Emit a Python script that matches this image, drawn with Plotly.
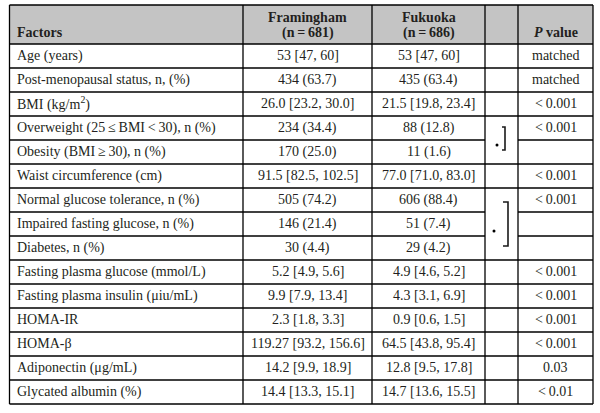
import plotly.graph_objects as go

factors = [
    "Age (years)",
    "Post-menopausal status, n, (%)",
    "BMI (kg/m<sup>2</sup>)",
    "Overweight (25\u2009\u2264\u2009BMI\u2009&lt;\u200930), n (%)",
    "Obesity (BMI\u2009\u2265\u200930), n (%)",
    "Waist circumference (cm)",
    "Normal glucose tolerance, n (%)",
    "Impaired fasting glucose, n (%)",
    "Diabetes, n (%)",
    "Fasting plasma glucose (mmol/L)",
    "Fasting plasma insulin (\u03bciu/mL)",
    "HOMA-IR",
    "HOMA-\u03b2",
    "Adiponectin (\u03bcg/mL)",
    "Glycated albumin (%)",
]
framingham = [
    "53 [47, 60]", "434 (63.7)", "26.0 [23.2, 30.0]", "234 (34.4)", "170 (25.0)",
    "91.5 [82.5, 102.5]", "505 (74.2)", "146 (21.4)", "30 (4.4)", "5.2 [4.9, 5.6]",
    "9.9 [7.9, 13.4]", "2.3 [1.8, 3.3]", "119.27 [93.2, 156.6]", "14.2 [9.9, 18.9]",
    "14.4 [13.3, 15.1]",
]
fukuoka = [
    "53 [47, 60]", "435 (63.4)", "21.5 [19.8, 23.4]", "88 (12.8)", "11 (1.6)",
    "77.0 [71.0, 83.0]", "606 (88.4)", "51 (7.4)", "29 (4.2)", "4.9 [4.6, 5.2]",
    "4.3 [3.1, 6.9]", "0.9 [0.6, 1.5]", "64.5 [43.8, 95.4]", "12.8 [9.5, 17.8]",
    "14.7 [13.6, 15.5]",
]
pvalues = [
    "matched", "matched", "&lt;\u20090.001", "&lt;\u20090.001", "",
    "&lt;\u20090.001", "&lt;\u20090.001", "", "", "&lt;\u20090.001",
    "&lt;\u20090.001", "&lt;\u20090.001", "&lt;\u20090.001", "0.03", "&lt;\u20090.01",
]
headers = ["Factors", "Framingham<br>(n\u2009=\u2009681)", "Fukuoka<br>(n\u2009=\u2009686)", "", "<i>P</i> value"]
groups = [(3, 4), (6, 8)]  # rows merged in the bracket column

# layout geometry (pixels)
W, H = 600, 413
col_x = [9.5, 243, 372, 485, 518, 593]
top, head_bot, row_h = 5, 44, 24
n = len(factors)
bottom = head_bot + n * row_h
FONT = "Liberation Serif"
TXT = "#231f20"
LW = 1.3

shapes = []
annots = []

# header background
shapes.append(dict(type="rect", x0=col_x[0], x1=col_x[-1], y0=top, y1=head_bot,
                   fillcolor="#c4c4c4", line=dict(width=0), layer="below"))

def hline(y, x0, x1):
    shapes.append(dict(type="line", x0=x0, x1=x1, y0=y, y1=y, line=dict(color="black", width=LW)))

def vline(x, y0, y1):
    shapes.append(dict(type="line", x0=x, x1=x, y0=y0, y1=y1, line=dict(color="black", width=LW)))

hline(top, col_x[0], col_x[-1])
hline(head_bot, col_x[0], col_x[-1])
hline(bottom, col_x[0], col_x[-1])
for i in range(1, n):
    y = head_bot + i * row_h
    inside = any(a < i <= b for a, b in groups)
    if inside:
        hline(y, col_x[0], col_x[3])
        hline(y, col_x[4], col_x[5])
    else:
        hline(y, col_x[0], col_x[-1])
for x in col_x:
    vline(x, top, bottom)

# brackets
for (a, b), (bx, dx, tick) in zip(groups, [(505, 497, 3), (508, 494, 5)]):
    yc = head_bot + (a + b + 1) / 2 * row_h
    if b - a == 1:
        yc0 = yc - 1.5
        y0, y1 = yc0 - 11.5, yc0 + 11.5
        dy = y1 - 5
    else:
        y0, y1 = yc - 22, yc + 22
        dy = y1 - 15
    shapes.append(dict(type="path",
                       path=f"M {bx-tick},{y0} L {bx},{y0} L {bx},{y1} L {bx-tick},{y1}",
                       line=dict(color="#1a1a1a", width=1.6)))
    shapes.append(dict(type="circle", x0=dx - 1.5, x1=dx + 1.5, y0=dy - 1.5, y1=dy + 1.5,
                       fillcolor="black", line=dict(width=0)))

font = dict(family=FONT, size=14, color=TXT)
# header text
annots.append(dict(x=15, y=32, text="<b>Factors</b>", xanchor="left", yanchor="middle", showarrow=False, font=font))
for ci, h in [(1, headers[1]), (2, headers[2])]:
    l1, l2 = h.split("<br>")
    cx = (col_x[ci] + col_x[ci + 1]) / 2
    annots.append(dict(x=cx, y=17, text=f"<b>{l1}</b>", xanchor="center", yanchor="middle", showarrow=False, font=font))
    annots.append(dict(x=cx, y=32.5, text=f"<b>{l2}</b>", xanchor="center", yanchor="middle", showarrow=False, font=font))
annots.append(dict(x=(col_x[4] + col_x[5]) / 2, y=32, text=f"<b>{headers[4]}</b>", xanchor="center",
                   yanchor="middle", showarrow=False, font=font))

for i in range(n):
    yc = head_bot + (i + 0.5) * row_h - 0.5
    annots.append(dict(x=15, y=yc, text=factors[i], xanchor="left", yanchor="middle", showarrow=False, font=font))
    for ci, vals in [(1, framingham), (2, fukuoka), (4, pvalues)]:
        if vals[i]:
            cx = (col_x[ci] + col_x[ci + 1]) / 2
            annots.append(dict(x=cx, y=yc, text=vals[i], xanchor="center", yanchor="middle",
                               showarrow=False, font=font))

fig = go.Figure()
fig.update_layout(
    width=W, height=H, margin=dict(l=0, r=0, t=0, b=0),
    paper_bgcolor="white", plot_bgcolor="white",
    xaxis=dict(range=[0, W], visible=False, fixedrange=True),
    yaxis=dict(range=[H, 0], visible=False, fixedrange=True),
    shapes=shapes, annotations=annots, showlegend=False,
)
fig.write_html("out.html", config=dict(displayModeBar=False),
               post_script="document.body.style.margin='0';document.body.style.overflow='hidden';")
